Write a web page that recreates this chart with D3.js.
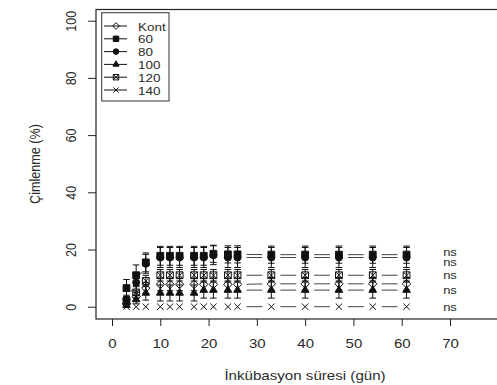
<!DOCTYPE html>
<html>
<head>
<meta charset="utf-8">
<script src="https://cdn.jsdelivr.net/npm/d3@7"></script>
<style>
  html, body { margin: 0; padding: 0; background: #fff; }
  svg { display: block; }
  text { font-family: "Liberation Sans", Arial, sans-serif; fill: #2a2a2a; }
</style>
</head>
<body>
<svg id="chart" width="497" height="385"></svg>
<script>
// Incubation days at which germination was counted
const days = [3, 5, 7, 10, 12, 14, 17, 19, 21, 24, 26, 33, 40, 47, 54, 61];

// Mean germination (%) per treatment
const kont = [1, 3.5, 6.5, 7.8, 7.8, 7.8, 7.8, 7.8, 7.8, 7.8, 7.8, 8, 8, 8, 8, 8];
const t60  = [6.5, 11, 15.5, 17.8, 17.8, 17.8, 17.8, 17.8, 18.5, 18.3, 18.3, 18.2, 18.2, 18.2, 18.2, 18.2];
const t80  = [2.5, 8.5, 15, 17.2, 17.2, 17.2, 17.2, 17.2, 18, 17.2, 17.2, 17.2, 17.2, 17.2, 17.2, 17.2];
const t100 = [0.5, 2.5, 4.8, 4.8, 4.8, 4.8, 4.8, 5.8, 5.8, 5.8, 5.8, 5.8, 5.8, 5.8, 5.8, 5.8];
const t120 = [2, 5, 9, 11, 11, 11, 11, 11, 11, 11, 11, 11, 11, 11, 11, 11];
const t140 = [0, 0, 0, 0, 0, 0, 0, 0, 0, 0, 0, 0, 0, 0, 0, 0];

// Standard errors per treatment
const kontErr = [1, 1.5, 2, 2.2, 2.2, 2.2, 2.2, 2.2, 2.2, 2.2, 2.2, 2.2, 2.2, 2.2, 2.2, 2.2];
const t60Err  = [3, 3.6, 3.3, 3.3, 3.3, 3.3, 3.3, 3.3, 3, 3, 3, 3, 3, 3, 3, 3];
const t80Err  = [1.5, 3, 3.3, 3.5, 3.5, 3.5, 3.5, 3.5, 3.3, 3.5, 3.5, 3.5, 3.5, 3.5, 3.5, 3.5];
const t100Err = [0.5, 1.5, 2.5, 2.8, 2.8, 2.8, 2.8, 2.8, 2.8, 2.8, 2.8, 2.8, 2.8, 2.8, 2.8, 2.8];
const t120Err = [1.5, 2, 2, 2, 2, 2, 2, 2, 2, 2, 2, 2, 2, 2, 2, 2];
const t140Err = [0, 0, 0, 0, 0, 0, 0, 0, 0, 0, 0, 0, 0, 0, 0, 0];

// Legend labels and the marker used by each treatment
const seriesNames = ["Kont", "60", "80", "100", "120", "140"];
const seriesShapes = ["diamond", "square", "circle", "triangle", "boxx", "cross"];
const seriesValues = [kont, t60, t80, t100, t120, t140];
const seriesErrors = [kontErr, t60Err, t80Err, t100Err, t120Err, t140Err];

// Axis ticks
const xTicks = [0, 10, 20, 30, 40, 50, 60, 70];
const yTicks = [0, 20, 40, 60, 80, 100];

// Significance notes at the right-hand end (label, level in %)
const nsLabels = ["ns", "ns", "ns", "ns", "ns"];
const nsLevels = [18.6, 15.2, 10.7, 5.5, -0.6];
const nsDay = 70;

const svg = d3.select("#chart");
const sx = 1.2; // horizontal stretch of the lettering

const box = { left: 96, top: 9.5, right: 530, bottom: 319 };
const x = d3.scaleLinear().domain([0, 70]).range([112, 450]);
const y = d3.scaleLinear().domain([0, 100]).range([306.7, 20.7]);

// Marker path builder
function markerPath(shape, k = 1) {
  const p = d3.path();
  if (shape === "diamond") {
    const s = 4.2 * k;
    p.moveTo(0, -s); p.lineTo(s, 0); p.lineTo(0, s); p.lineTo(-s, 0); p.closePath();
  } else if (shape === "square") {
    const s = 3.4 * k;
    p.rect(-s, -s, 2 * s, 2 * s);
  } else if (shape === "circle") {
    p.arc(0, 0, 3.5 * k, 0, 2 * Math.PI);
  } else if (shape === "triangle") {
    const r = 4.4 * k;
    p.moveTo(0, -r); p.lineTo(r * 0.866, r * 0.5); p.lineTo(-r * 0.866, r * 0.5); p.closePath();
  } else if (shape === "boxx") {
    const s = 3.4 * k;
    p.rect(-s, -s, 2 * s, 2 * s);
    p.moveTo(-s, -s); p.lineTo(s, s); p.moveTo(s, -s); p.lineTo(-s, s);
  } else if (shape === "cross") {
    const s = 3.2 * k;
    p.moveTo(-s, -s); p.lineTo(s, s); p.moveTo(s, -s); p.lineTo(-s, s);
  }
  return p.toString();
}
const filled = { diamond: false, square: true, circle: true, triangle: true, boxx: false, cross: false };

function drawMarker(g, shape, cx, cy, k) {
  g.append("path")
    .attr("d", markerPath(shape, k))
    .attr("transform", `translate(${cx},${cy})`)
    .attr("fill", filled[shape] ? "#111" : "none")
    .attr("stroke", "#111")
    .attr("stroke-width", 1);
}

// Plot frame
svg.append("rect")
  .attr("x", box.left).attr("y", box.top)
  .attr("width", box.right - box.left).attr("height", box.bottom - box.top)
  .attr("fill", "none").attr("stroke", "#222").attr("stroke-width", 1.2);

// Axes
const xAxis = svg.append("g")
  .attr("transform", `translate(0,${box.bottom})`)
  .call(d3.axisBottom(x).tickValues(xTicks).tickSize(7).tickFormat(d3.format("d")));
xAxis.select(".domain").remove();
xAxis.selectAll("line").attr("stroke", "#222");
xAxis.selectAll("text")
  .attr("y", null).attr("dy", null)
  .attr("transform", `translate(0,29) scale(${sx},1)`)
  .attr("font-size", 12.5).attr("font-family", "Liberation Sans, Arial, sans-serif")
  .attr("fill", "#2a2a2a");

const yAxis = svg.append("g")
  .attr("transform", `translate(${box.left},0)`)
  .call(d3.axisLeft(y).tickValues(yTicks).tickSize(8).tickFormat(d3.format("d")));
yAxis.select(".domain").remove();
yAxis.selectAll("line").attr("stroke", "#222");
yAxis.selectAll("text")
  .attr("x", null).attr("dy", null)
  .attr("text-anchor", "middle")
  .attr("transform", `translate(-20,0) scale(${sx},1) rotate(-90)`)
  .attr("font-size", 12.5).attr("font-family", "Liberation Sans, Arial, sans-serif")
  .attr("fill", "#2a2a2a");

// Axis titles
svg.append("text")
  .attr("transform", `translate(305,380) scale(${sx},1)`)
  .attr("text-anchor", "middle").attr("font-size", 12.6)
  .text("İnkübasyon süresi (gün)");
svg.append("text")
  .attr("transform", `translate(39.5,164) scale(${sx},1) rotate(-90)`)
  .attr("text-anchor", "middle").attr("font-size", 12.6)
  .text("Çimlenme (%)");

// Connecting lines that stop short of each point
const gap = 9;
const lineG = svg.append("g");
seriesValues.forEach(vals => {
  for (let i = 0; i < days.length - 1; i++) {
    const x0 = x(days[i]), y0 = y(vals[i]);
    const x1 = x(days[i + 1]), y1 = y(vals[i + 1]);
    const len = Math.hypot(x1 - x0, y1 - y0);
    if (len <= 2 * gap) continue;
    const ux = (x1 - x0) / len, uy = (y1 - y0) / len;
    lineG.append("line")
      .attr("x1", x0 + ux * gap).attr("y1", y0 + uy * gap)
      .attr("x2", x1 - ux * gap).attr("y2", y1 - uy * gap)
      .attr("stroke", "#444").attr("stroke-width", 1);
  }
});

// Error bars
const errG = svg.append("g").attr("stroke", "#111").attr("stroke-width", 1);
const cap = 3.3;
seriesValues.forEach((vals, s) => {
  const errs = seriesErrors[s];
  vals.forEach((v, i) => {
    if (errs[i] <= 0) return;
    const cx = x(days[i]);
    const yHi = y(v + errs[i]), yLo = y(v - errs[i]);
    errG.append("line").attr("x1", cx).attr("x2", cx).attr("y1", yHi).attr("y2", yLo);
    errG.append("line").attr("x1", cx - cap).attr("x2", cx + cap).attr("y1", yHi).attr("y2", yHi);
    errG.append("line").attr("x1", cx - cap).attr("x2", cx + cap).attr("y1", yLo).attr("y2", yLo);
  });
});

// Points
const ptG = svg.append("g");
seriesValues.forEach((vals, s) => {
  vals.forEach((v, i) => drawMarker(ptG, seriesShapes[s], x(days[i]), y(v), 1));
});

// Significance notes
nsLevels.forEach((lv, i) => {
  svg.append("text")
    .attr("transform", `translate(${x(nsDay)},${y(lv) + 2.7}) scale(1.3,1)`)
    .attr("text-anchor", "middle").attr("font-size", 10).attr("fill", "#444")
    .text(nsLabels[i]);
});

// Legend
const lg = svg.append("g");
lg.append("rect")
  .attr("x", 101.7).attr("y", 12.7).attr("width", 67.3).attr("height", 88.3)
  .attr("fill", "#fff").attr("stroke", "#333").attr("stroke-width", 1);
seriesNames.forEach((name, i) => {
  const cy = 26 + i * 12.8;
  lg.append("line").attr("x1", 104).attr("x2", 127).attr("y1", cy).attr("y2", cy)
    .attr("stroke", "#111").attr("stroke-width", 1);
  drawMarker(lg, seriesShapes[i], 116, cy, 0.8);
  lg.append("text")
    .attr("transform", `translate(138,${cy + 4.5}) scale(${sx},1)`)
    .attr("font-size", 11.2)
    .text(name);
});
</script>
</body>
</html>
